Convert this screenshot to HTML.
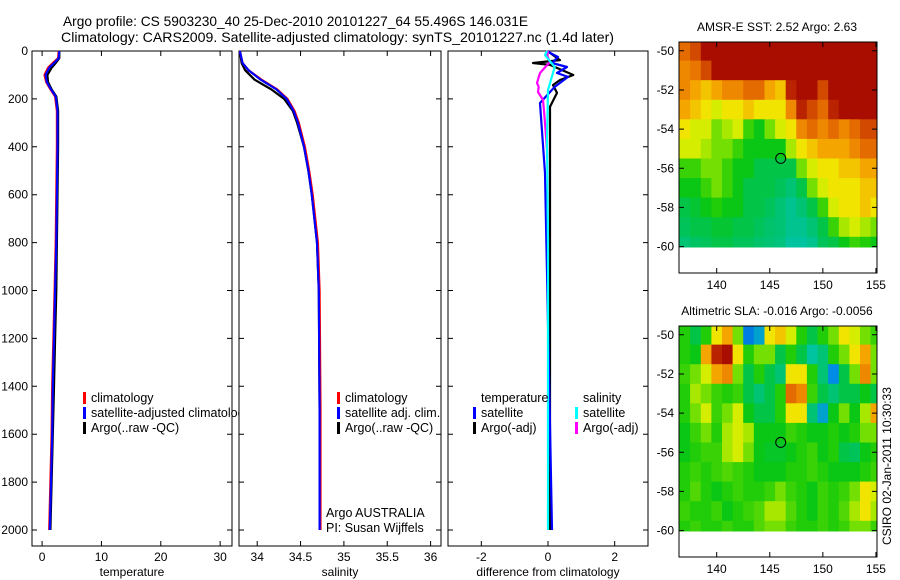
<!DOCTYPE html>
<html><head><meta charset="utf-8"><style>
html,body{margin:0;padding:0;background:#fff;}
svg{display:block;font-family:"Liberation Sans",Arial,sans-serif;}
</style></head><body>
<svg id="fig" width="900" height="580" viewBox="0 0 900 580" xmlns="http://www.w3.org/2000/svg">
<rect x="0" y="0" width="900" height="580" fill="#fff"/>
<text x="63" y="26" font-size="14" textLength="465" lengthAdjust="spacingAndGlyphs">Argo profile: CS 5903230_40 25-Dec-2010 20101227_64 55.496S 146.031E</text>
<text x="61" y="42" font-size="14" textLength="553" lengthAdjust="spacingAndGlyphs">Climatology: CARS2009. Satellite-adjusted climatology: synTS_20101227.nc (1.4d later)</text>
<text x="777" y="31" font-size="12" text-anchor="middle">AMSR-E SST: 2.52 Argo: 2.63</text>
<text x="777" y="315" font-size="12" text-anchor="middle">Altimetric SLA: -0.016 Argo: -0.0056</text>
<text transform="translate(891,545) rotate(-90)" font-size="12">CSIRO 02-Jan-2011 10:30:33</text>
<g id="plots"></g>
</svg>
<script>
// ---------- profile data ----------
const tDepth = [0,30,50,70,100,130,160,190,250,400,600,800,1000,1200,1400,1600,1800,2000];
const tClim  = [2.8,2.7,1.8,1.0,0.4,0.7,1.4,2.2,2.5,2.5,2.4,2.3,2.1,1.9,1.7,1.6,1.4,1.2];
const tSat   = [2.9,2.8,2.0,1.2,0.6,0.8,1.5,2.3,2.6,2.6,2.5,2.4,2.2,2.0,1.8,1.7,1.5,1.3];
const tArgo  = [2.9,2.9,2.3,1.6,0.9,1.0,1.6,2.4,2.7,2.7,2.6,2.5,2.4,2.2,2.0,1.8,1.6,1.4];
const sDepth = [0,50,80,120,160,200,250,300,400,500,600,800,1000,1500,2000];
const sClim  = [33.8,33.83,33.9,34.05,34.23,34.35,34.43,34.48,34.55,34.6,34.64,34.7,34.72,34.73,34.73];
const sSat   = [33.8,33.83,33.9,34.04,34.22,34.34,34.42,34.47,34.54,34.59,34.63,34.69,34.71,34.72,34.72];
const sArgo  = [33.8,33.82,33.86,33.97,34.16,34.31,34.41,34.46,34.54,34.59,34.63,34.69,34.71,34.72,34.72];
const dTSatDepth = [0,8,25,50,67,92,108,150,217,317,510,927,1500,2000];
const dTSat      = [0.0,0.06,0.3,0.12,0.57,0.27,0.6,0.2,-0.24,-0.19,-0.09,-0.03,0.05,0.12];
const dTArgoDepth = [0,8,38,50,58,100,121,142,175,233,1000,2000];
const dTArgo      = [0.0,0.06,0.36,-0.45,0.06,0.76,0.36,0.15,0.27,0.06,0.06,0.06];
const dSSatDepth = [0,17,67,163,372,800,2000];
const dSSat      = [-0.03,-0.09,0.2,0.0,-0.03,0.0,0.0];
const dSArgoDepth = [0,17,46,70,92,110,133,150,171,204,250,300,413,450];
const dSArgo      = [0.0,-0.03,0.06,-0.1,-0.24,-0.28,-0.33,-0.28,-0.3,-0.15,-0.12,-0.09,-0.03,-0.03];
const depthTicks = [0,200,400,600,800,1000,1200,1400,1600,1800,2000];
const tTicks = [0,10,20,30];
const sTicks = [34,34.5,35,35.5,36];
const dTicks = [-2,0,2];
// ---------- map data (rows lat -50..-60, cols lon 137..155) ----------
const mapLons = [137,138,139,140,141,142,143,144,145,146,147,148,149,150,151,152,153,154,155];
const mapLats = [-50,-51,-52,-53,-54,-55,-56,-57,-58,-59,-60];
const sstGrid = [
[0.8,0.85,0.95,0.95,0.95,0.95,0.95,0.95,0.95,0.95,0.95,0.95,0.95,0.95,0.95,0.95,0.95,0.95,0.95],
[0.75,0.78,0.85,0.95,0.95,0.95,0.95,0.95,0.95,0.95,0.95,0.95,0.95,0.95,0.95,0.95,0.95,0.95,0.95],
[0.75,0.7,0.65,0.7,0.75,0.75,0.8,0.8,0.7,0.65,0.9,0.95,0.95,0.85,0.95,0.95,0.95,0.95,0.95],
[0.7,0.65,0.6,0.55,0.6,0.6,0.65,0.6,0.6,0.6,0.75,0.9,0.85,0.8,0.9,0.95,0.95,0.95,0.95],
[0.6,0.55,0.55,0.45,0.5,0.55,0.4,0.35,0.45,0.55,0.6,0.75,0.8,0.75,0.8,0.75,0.8,0.85,0.85],
[0.55,0.55,0.5,0.45,0.45,0.4,0.35,0.35,0.35,0.35,0.5,0.6,0.65,0.7,0.7,0.7,0.75,0.8,0.8],
[0.4,0.4,0.45,0.45,0.4,0.35,0.35,0.3,0.3,0.3,0.3,0.45,0.55,0.6,0.6,0.65,0.65,0.7,0.7],
[0.35,0.35,0.4,0.45,0.4,0.35,0.3,0.3,0.3,0.28,0.25,0.3,0.45,0.55,0.6,0.6,0.6,0.65,0.65],
[0.3,0.32,0.35,0.38,0.35,0.35,0.3,0.3,0.28,0.25,0.22,0.25,0.3,0.4,0.55,0.6,0.6,0.65,0.6],
[0.28,0.3,0.3,0.32,0.32,0.3,0.3,0.28,0.26,0.25,0.22,0.22,0.25,0.3,0.4,0.5,0.55,0.5,0.45],
[0.25,0.27,0.28,0.3,0.3,0.28,0.28,0.26,0.25,0.24,0.2,0.2,0.22,0.28,0.3,0.35,0.4,0.38,0.35]];
const slaGrid = [
[0.38,0.3,0.38,0.6,0.7,0.45,0.1,0.15,0.6,0.65,0.55,0.38,0.3,0.38,0.45,0.6,0.55,0.45,0.4],
[0.38,0.35,0.7,0.9,0.95,0.6,0.38,0.45,0.45,0.3,0.38,0.3,0.2,0.25,0.38,0.45,0.6,0.7,0.45],
[0.4,0.45,0.55,0.7,0.75,0.45,0.3,0.38,0.3,0.25,0.6,0.6,0.38,0.25,0.12,0.3,0.45,0.75,0.45],
[0.38,0.5,0.45,0.4,0.38,0.4,0.3,0.25,0.3,0.38,0.8,0.75,0.4,0.3,0.25,0.3,0.3,0.35,0.3],
[0.38,0.45,0.55,0.4,0.45,0.55,0.35,0.3,0.3,0.38,0.6,0.6,0.25,0.15,0.35,0.45,0.35,0.5,0.7],
[0.35,0.4,0.45,0.38,0.5,0.55,0.5,0.35,0.35,0.35,0.4,0.38,0.35,0.35,0.38,0.35,0.38,0.45,0.45],
[0.35,0.38,0.4,0.4,0.5,0.55,0.45,0.35,0.33,0.33,0.35,0.38,0.4,0.35,0.38,0.3,0.28,0.35,0.38],
[0.38,0.4,0.38,0.4,0.42,0.4,0.38,0.35,0.35,0.35,0.38,0.38,0.4,0.38,0.35,0.35,0.35,0.38,0.4],
[0.38,0.42,0.38,0.35,0.38,0.4,0.38,0.38,0.4,0.45,0.4,0.38,0.35,0.4,0.38,0.4,0.45,0.6,0.55],
[0.4,0.38,0.38,0.4,0.35,0.38,0.4,0.42,0.5,0.5,0.42,0.38,0.35,0.4,0.38,0.42,0.5,0.6,0.5],
[0.38,0.4,0.38,0.38,0.4,0.38,0.38,0.42,0.45,0.45,0.4,0.38,0.38,0.4,0.38,0.4,0.45,0.45,0.4]];
const latTicks = [-50,-52,-54,-56,-58,-60];
const lonTicks = [140,145,150,155];
const argoLon = 146.031, argoLat = -55.496;

const NS='http://www.w3.org/2000/svg';
const root=document.getElementById('plots');
function mk(tag,attrs,parent){const e=document.createElementNS(NS,tag);for(const k in attrs)e.setAttribute(k,attrs[k]);(parent||root).appendChild(e);return e;}

const yTop=51, yBot=546, dMax=(yBot-yTop)/0.2395;
function yD(d){return yTop+d*(yBot-yTop)/dMax;}

const panels=[
 {x0:32,x1:232,min:-1.7,max:32.0,ticks:tTicks,label:'temperature',name:'temperature'},
 {x0:239,x1:441,min:33.79,max:36.12,ticks:sTicks,label:'salinity',name:'salinity'},
 {x0:448,x1:648,min:-3.0,max:3.0,ticks:dTicks,label:'difference from climatology',name:'difference'}];
panels.forEach(p=>{p.sx=v=>p.x0+(v-p.min)/(p.max-p.min)*(p.x1-p.x0);});

function drawPanelFrame(p,i){
  const r=mk('rect',{x:p.x0,y:yTop,width:p.x1-p.x0,height:yBot-yTop,fill:'#fff',stroke:'#000','stroke-width':1});
  
  
  p.ticks.forEach(t=>{const x=p.sx(t);
    const a=mk('path',{d:`M${x},${yBot}v-5M${x},${yTop}v5`,stroke:'#000'});
    
    
    const l=mk('text',{x:x,y:yBot+15,'font-size':12,'text-anchor':'middle'});l.textContent=t;
    
    });
  depthTicks.forEach(d=>{const y=yD(d);
    const a=mk('path',{d:`M${p.x0},${y}h5M${p.x1},${y}h-5`,stroke:'#000'});
    
    
    if(i===0){const l=mk('text',{x:p.x0-4,y:y+4,'font-size':12,'text-anchor':'end'});l.textContent=d;
      
      }});
  const al=mk('text',{x:(p.x0+p.x1)/2,y:yBot+30,'font-size':12,'text-anchor':'middle'});al.textContent=p.label;
  
  
}
function line(p,depths,vals,color,name){
  const pts=depths.map((d,k)=>p.sx(vals[k]).toFixed(1)+','+yD(d).toFixed(1)).join(' ');
  const l=mk('polyline',{points:pts,fill:'none',stroke:color,'stroke-width':2.2,'stroke-linejoin':'round'});
  
  
}
function legend(x,y,color,txt,name){
  if(color){const m=mk('rect',{x:x,y:y-10,width:3,height:12,fill:color});
    
    }
  const t=mk('text',{x:x+8,y:y,'font-size':12.5});t.textContent=txt;
  
  
}
drawPanelFrame(panels[0],0);
line(panels[0],tDepth,tArgo,'#000','temperature-argo-line');
line(panels[0],tDepth,tClim,'#f00','temperature-climatology-line');
line(panels[0],tDepth,tSat,'#00f','temperature-satellite-line');
legend(83,402,'#f00','climatology','legend-entry-climatology');
legend(83,417,'#00f','satellite-adjusted climatology','legend-entry-satellite-adjusted');
legend(83,432,'#000','Argo(..raw -QC)','legend-entry-argo-raw');
drawPanelFrame(panels[1],1);
line(panels[1],sDepth,sArgo,'#000','salinity-argo-line');
line(panels[1],sDepth,sClim,'#f00','salinity-climatology-line');
line(panels[1],sDepth,sSat,'#00f','salinity-satellite-line');
legend(337,402,'#f00','climatology','legend-entry-sal-climatology');
legend(337,417,'#00f','satellite adj. clim.','legend-entry-sal-satellite');
legend(337,432,'#000','Argo(..raw -QC)','legend-entry-sal-argo');
legend(318,517,null,'Argo AUSTRALIA','argo-agency-label');
legend(318,532,null,'PI: Susan Wijffels','pi-label');
drawPanelFrame(panels[2],2);
line(panels[2],dTArgoDepth,dTArgo,'#000','diff-temperature-argo-line');
line(panels[2],dTSatDepth,dTSat,'#00f','diff-temperature-satellite-line');
line(panels[2],dSArgoDepth,dSArgo,'#f0f','diff-salinity-argo-line');
line(panels[2],dSSatDepth,dSSat,'#0ff','diff-salinity-satellite-line');
legend(473,402,null,'temperature','legend-temperature-header');
legend(473,417,'#00f','satellite','legend-entry-diff-t-satellite');
legend(473,432,'#000','Argo(-adj)','legend-entry-diff-t-argo');
legend(575,402,null,'salinity','legend-salinity-header');
legend(575,417,'#0ff','satellite','legend-entry-diff-s-satellite');
legend(575,432,'#f0f','Argo(-adj)','legend-entry-diff-s-argo');

// ---------- maps ----------
const cstops=[[0,[0,50,200]],[0.12,[0,140,230]],[0.2,[0,195,160]],[0.28,[0,195,90]],[0.36,[10,200,10]],[0.48,[150,230,0]],[0.58,[240,240,0]],[0.7,[245,165,0]],[0.82,[225,95,0]],[0.92,[175,20,0]],[1,[160,0,0]]];
function cmap(v){for(let i=1;i<cstops.length;i++){if(v<=cstops[i][0]){const a=cstops[i-1],b=cstops[i],f=(v-a[0])/(b[0]-a[0]);
  return 'rgb('+a[1].map((c,k)=>Math.round(c+(b[1][k]-c)*f)).join(',')+')';}}return 'rgb(160,0,0)';}
function drawMap(m){
  const sx=lon=>m.x0+(lon-136.45)/(155.1-136.45)*(m.x1-m.x0);
  const sy=lat=>m.y0+(-49.55-lat)/(61.35-49.55)*(m.y1-m.y0);
  const cp=mk('clipPath',{id:m.name+'-clip'});
  mk('rect',{x:m.x0,y:m.y0,width:m.x1-m.x0,height:sy(-60.05)-m.y0},cp);
  const g=mk('g',{'clip-path':`url(#${m.name}-clip)`});
  
  
  mapLats.forEach((lat,r)=>mapLons.forEach((lon,c)=>{
    const x=sx(lon-0.5),y=sy(lat+0.5);
    const cell=mk('rect',{x:x.toFixed(1),y:y.toFixed(1),width:(sx(lon+0.5)-x+0.6).toFixed(1),height:(sy(lat-0.5)-y+0.6).toFixed(1),fill:cmap(m.grid[r][c])},g);
    
    
  }));
  const f=mk('rect',{x:m.x0,y:m.y0,width:m.x1-m.x0,height:m.y1-m.y0,fill:'none',stroke:'#000'});
  
  
  latTicks.forEach(t=>{const y=sy(t);
    const a=mk('path',{d:`M${m.x0},${y}h5M${m.x1},${y}h-5`,stroke:'#000'});
    
    
    const l=mk('text',{x:m.x0-5,y:y+4,'font-size':12,'text-anchor':'end'});l.textContent=t;
    
    });
  lonTicks.forEach(t=>{const x=sx(t);
    const a=mk('path',{d:`M${x},${m.y1}v-5M${x},${m.y0}v5`,stroke:'#000'});
    
    
    const l=mk('text',{x:x,y:m.y1+16,'font-size':12,'text-anchor':'middle'});l.textContent=t;
    
    });
  const c=mk('circle',{cx:sx(argoLon),cy:sy(argoLat),r:5,fill:'none',stroke:'#000','stroke-width':1});
  
  
}
drawMap({name:'sst-map',x0:679,x1:877,y0:42,y1:273,grid:sstGrid});
drawMap({name:'sla-map',x0:679,x1:877,y0:326,y1:557,grid:slaGrid});
</script>
</body></html>
